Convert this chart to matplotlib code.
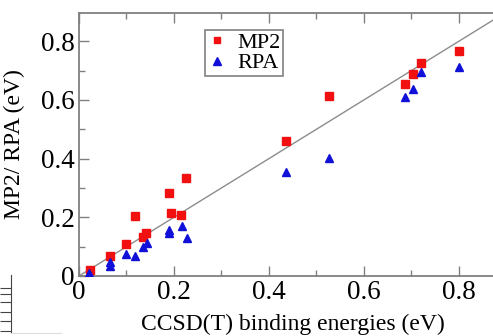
import matplotlib.pyplot as plt
import numpy as np
from matplotlib.ticker import MultipleLocator, FormatStrFormatter

# CCSD(T) reference binding energies (eV) and the MP2 / RPA values
ccsd_mp2 = [0.023, 0.065, 0.100, 0.118, 0.135, 0.141, 0.190, 0.194, 0.215, 0.225,
            0.436, 0.526, 0.686, 0.703, 0.720, 0.800]
mp2 = [0.020, 0.068, 0.108, 0.204, 0.133, 0.147, 0.283, 0.214, 0.208, 0.334,
       0.460, 0.613, 0.655, 0.688, 0.726, 0.767]

ccsd_rpa = [0.021, 0.065, 0.065, 0.100, 0.118, 0.135, 0.143, 0.190, 0.190, 0.216, 0.227,
            0.436, 0.526, 0.686, 0.703, 0.720, 0.800]
rpa = [0.010, 0.035, 0.046, 0.075, 0.068, 0.099, 0.113, 0.145, 0.158, 0.170, 0.130,
       0.354, 0.402, 0.610, 0.637, 0.695, 0.712]

plt.rcParams['font.family'] = ['Liberation Serif', 'DejaVu Serif']

fig = plt.figure(figsize=(4.93, 3.36), dpi=100)
ax = fig.add_axes([0.1602, 0.1786, 0.8398, 0.7827])

xmax = 0.8716
diag = np.array([0, 0.9])
ax.plot(diag, diag, color='#8c8c8c', linewidth=1.0, zorder=1)

ax.plot(ccsd_mp2, mp2, 's', color='#f01010', markersize=5.2, linestyle='none',
        label='MP2', zorder=3)
ax.plot(ccsd_rpa, rpa, '^', color='#1010d8', markersize=5.8, linestyle='none',
        label='RPA', zorder=3)

ax.set_xlim(0, xmax)
ax.set_ylim(0, 0.896)

ax.xaxis.set_major_locator(MultipleLocator(0.2))
ax.xaxis.set_minor_locator(MultipleLocator(0.1))
ax.yaxis.set_major_locator(MultipleLocator(0.2))
ax.yaxis.set_minor_locator(MultipleLocator(0.1))
ax.xaxis.set_major_formatter(FormatStrFormatter('%g'))
ax.yaxis.set_major_formatter(FormatStrFormatter('%g'))

for side in ['left', 'bottom', 'top']:
    ax.spines[side].set_color('#808080')
    ax.spines[side].set_linewidth(1.3)
ax.spines['right'].set_visible(False)

ax.tick_params(which='both', direction='in', top=True, right=False,
               color='#808080', width=1.0, labelsize=19.5)
ax.tick_params(which='major', length=7)
ax.tick_params(which='minor', length=4)
ax.tick_params(axis='x', pad=3)
ax.tick_params(axis='y', pad=3)

ax.set_xlabel('CCSD(T) binding energies (eV)', fontsize=17)
ax.xaxis.set_label_coords(0.45 / xmax, -0.145)
ax.set_ylabel('MP2/ RPA (eV)', fontsize=17)
ax.yaxis.set_label_coords(-0.13, 0.5)

leg = ax.legend(loc='upper left', bbox_to_anchor=(0.304, 0.935), borderaxespad=0,
                fontsize=16, handlelength=0.9, handletextpad=0.45, borderpad=0.1,
                labelspacing=0.0, fancybox=False, framealpha=1.0,
                edgecolor='#808080', markerscale=0.9)
leg.get_frame().set_linewidth(1.2)

# bit of the neighbouring panel visible at the lower left
side = fig.add_axes([11 / 493, 3 / 336, 50 / 493, 58 / 336])
side.set_ylim(0, 1)
side.set_xticks([])
side.set_yticks([0.03, 0.2, 0.37, 0.53, 0.67, 0.78])
side.tick_params(axis='y', direction='out', length=8, color='#444444', labelleft=False)
for s in ['right', 'top']:
    side.spines[s].set_visible(False)
side.spines['left'].set_color('#444444')
side.spines['bottom'].set_color('#dddddd')
side.patch.set_alpha(0)

fig.savefig('out.png', dpi=100)
